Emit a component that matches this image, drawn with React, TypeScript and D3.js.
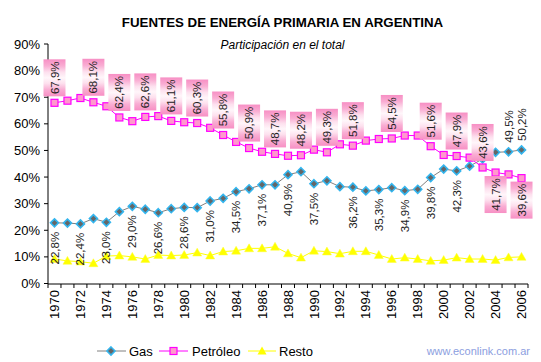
import React from "react";
import * as d3 from "d3";

const years: number[] = d3.range(1970, 2007);
const gas: number[] = [22.8, 22.7, 22.4, 24.4, 23.0, 27.0, 29.0, 27.9, 26.6, 28.1, 28.6, 28.5, 31.0, 32.0, 34.5, 35.6, 37.1, 37.1, 40.9, 42.0, 37.5, 38.6, 36.4, 36.2, 34.8, 35.3, 36.0, 34.9, 35.4, 39.8, 43.0, 42.3, 44.1, 46.8, 49.3, 49.5, 50.2];
const petroleo: number[] = [67.9, 68.7, 69.7, 68.1, 66.6, 62.4, 61.0, 62.6, 62.9, 61.1, 60.6, 60.3, 58.5, 55.8, 53.2, 50.9, 49.5, 48.7, 48.0, 48.2, 50.3, 49.3, 52.3, 51.8, 53.7, 54.3, 54.5, 55.6, 55.6, 51.6, 48.3, 47.9, 47.3, 43.6, 41.7, 41.0, 39.6];
const resto: number[] = [9.2, 8.5, 8.2, 7.6, 10.3, 10.5, 10.0, 9.2, 10.7, 10.5, 10.7, 11.6, 10.5, 12.0, 12.3, 13.2, 13.2, 13.8, 11.3, 9.7, 12.3, 12.0, 11.2, 12.1, 12.1, 10.7, 9.2, 9.7, 9.2, 8.5, 8.8, 9.7, 9.2, 9.2, 8.8, 9.8, 10.0];

// labelled points: [year, position]
const gasLabels: [number, string][] = [
  [1970, "below"], [1972, "below"], [1974, "below"], [1976, "below"], [1978, "below"],
  [1980, "below"], [1982, "below"], [1984, "below"], [1986, "below"], [1988, "below"],
  [1990, "below"], [1993, "below"], [1995, "below"], [1997, "below"], [1999, "below"],
  [2001, "below"], [2005, "above"], [2006, "above"],
];
const petroleoLabels: [number, string][] = [
  [1970, "above"], [1973, "above"], [1975, "above"], [1977, "above"], [1979, "above"],
  [1981, "above"], [1983, "above"], [1985, "above"], [1987, "above"], [1989, "above"],
  [1991, "above"], [1993, "above"], [1996, "above"], [1999, "above"], [2001, "above"],
  [2003, "above"], [2004, "below"], [2006, "below"],
];
const yTicks: number[] = [0, 10, 20, 30, 40, 50, 60, 70, 80, 90];
const xTickLabels: number[] = years.filter((y) => (y - 1970) % 2 === 0);

const FONT = "Arial, 'Liberation Sans', sans-serif";
const fmt = (v: number) => v.toFixed(1).replace(".", ",") + "%";

export default function App() {
  const W = 541, H = 362;
  const x = d3.scaleBand<number>().domain(years).range([48, 528]).padding(0);
  const cx = (yr: number) => (x(yr) as number) + x.bandwidth() / 2;
  const y = d3.scaleLinear().domain([0, 90]).range([283.5, 44]);

  const line = (vals: number[]) =>
    d3.line<number>().x((_, i) => cx(years[i])).y((v) => y(v))(vals) as string;

  const diamond = (px: number, py: number, s = 4) =>
    `M${px},${py - s}L${px + s},${py}L${px},${py + s}L${px - s},${py}Z`;
  const triangle = (px: number, py: number, s = 4.5) =>
    `M${px},${py - s}L${px + s},${py + s * 0.75}L${px - s},${py + s * 0.75}Z`;

  const boundaries = [...years.map((yr) => x(yr) as number), 528];

  return (
    <svg width={W} height={H} style={{ position: "absolute", left: 0, top: 0, background: "#fff" }} fontFamily={FONT}>
      <defs>
        <linearGradient id="pinkGrad" x1="0" y1="0" x2="0" y2="1">
          <stop offset="0" stopColor="#f78fc4" />
          <stop offset="0.18" stopColor="#f9add3" />
          <stop offset="0.35" stopColor="#fde0ee" />
          <stop offset="0.5" stopColor="#fff6fa" />
          <stop offset="0.65" stopColor="#fde0ee" />
          <stop offset="0.82" stopColor="#f9add3" />
          <stop offset="1" stopColor="#f78fc4" />
        </linearGradient>
      </defs>
      <rect x={0} y={0} width={W} height={H} fill="#fff" />
      <text x={282.5} y={27} textAnchor="middle" fontWeight="bold" fontSize={13.3} fill="#000">
        FUENTES DE ENERGÍA PRIMARIA EN ARGENTINA
      </text>
      <text x={282.5} y={49} textAnchor="middle" fontStyle="italic" fontSize={12} fill="#000">
        Participación en el total
      </text>

      {/* axes */}
      <line x1={48} x2={48} y1={44} y2={284} stroke="#000" strokeWidth={1} />
      <line x1={48} x2={528} y1={284} y2={284} stroke="#000" strokeWidth={1} />
      {yTicks.map((t) => (
        <g key={"yt" + t}>
          <line x1={44} x2={48} y1={y(t)} y2={y(t)} stroke="#000" />
          <text x={40} y={y(t)} dy="0.35em" textAnchor="end" fontSize={13} fill="#000">
            {t}%
          </text>
        </g>
      ))}
      {boundaries.map((bx, i) => (
        <line key={"xt" + i} x1={bx} x2={bx} y1={284} y2={288} stroke="#000" />
      ))}
      {xTickLabels.map((yr) => (
        <text key={"xl" + yr} transform={`translate(${cx(yr)},290) rotate(-90)`} dy="0.35em" textAnchor="end" fontSize={13} fill="#000">
          {yr}
        </text>
      ))}

      {/* lines */}
      <path d={line(resto)} fill="none" stroke="#ffff00" strokeWidth={1} />
      <path d={line(gas)} fill="none" stroke="#808080" strokeWidth={1} />
      <path d={line(petroleo)} fill="none" stroke="#ff00ff" strokeWidth={1} />

      {/* markers */}
      {resto.map((v, i) => (
        <path key={"rm" + i} d={triangle(cx(years[i]), y(v))} fill="#ffff00" stroke="#ffff33" strokeWidth={0.5} />
      ))}
      {gas.map((v, i) => (
        <path key={"gm" + i} d={diamond(cx(years[i]), y(v))} fill="#666" stroke="#33b5ee" strokeWidth={1.6} />
      ))}
      {petroleo.map((v, i) => (
        <rect key={"pm" + i} x={cx(years[i]) - 3.5} y={y(v) - 3.5} width={7} height={7} fill="#ff99cc" stroke="#ff00ff" strokeWidth={1.2} />
      ))}

      {/* gas labels */}
      {gasLabels.map(([yr, pos]) => {
        const i = years.indexOf(yr);
        const py = y(gas[i]);
        const above = pos === "above";
        return (
          <text key={"gl" + yr} transform={`translate(${cx(yr)},${above ? py - 9 : py + 9}) rotate(-90)`} dy="0.35em" textAnchor={above ? "start" : "end"} fontSize={11.5} fill="#222">
            {fmt(gas[i])}
          </text>
        );
      })}

      {/* petroleo labels */}
      {petroleoLabels.map(([yr, pos]) => {
        const i = years.indexOf(yr);
        const py = y(petroleo[i]);
        const cy = pos === "above" ? py - 25 : py + 22;
        const px = cx(yr);
        return (
          <g key={"pl" + yr}>
            <rect x={px - 11} y={cy - 18.5} width={22} height={37} fill="url(#pinkGrad)" />
            <text transform={`translate(${px},${cy}) rotate(-90)`} dy="0.35em" textAnchor="middle" fontSize={11.5} fill="#222">
              {fmt(petroleo[i])}
            </text>
          </g>
        );
      })}

      {/* legend */}
      <g>
        <line x1={97} x2={126} y1={351} y2={351} stroke="#808080" />
        <path d={diamond(111, 351)} fill="#666" stroke="#33b5ee" strokeWidth={1.6} />
        <text x={129} y={355.5} fontSize={13} fill="#000">Gas</text>
        <line x1={159} x2={188} y1={351} y2={351} stroke="#ff00ff" />
        <rect x={170} y={347.5} width={7} height={7} fill="#ff99cc" stroke="#ff00ff" strokeWidth={1.2} />
        <text x={192} y={355.5} fontSize={13} fill="#000">Petróleo</text>
        <line x1={248} x2={276} y1={351} y2={351} stroke="#ffff00" />
        <path d={triangle(262, 351)} fill="#ffff00" />
        <text x={279} y={355.5} fontSize={13} fill="#000">Resto</text>
      </g>
      <text x={530} y={355} textAnchor="end" fontSize={11} fill="#8c9ee0">www.econlink.com.ar</text>
    </svg>
  );
}
